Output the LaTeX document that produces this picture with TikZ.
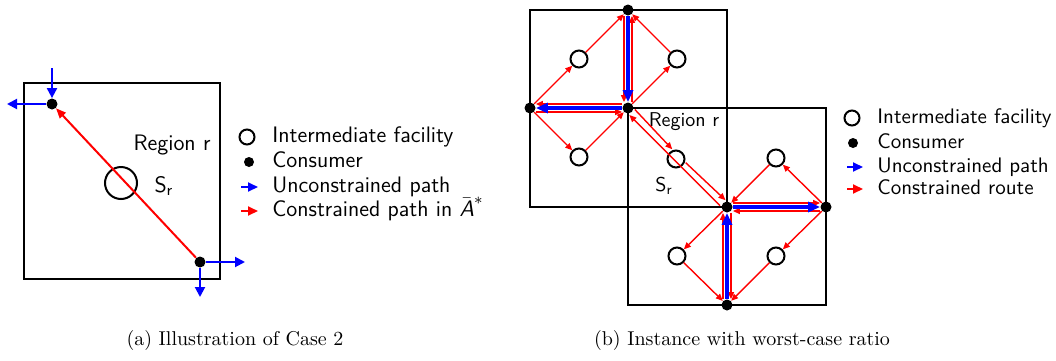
\documentclass[tikz,border=0pt]{standalone}
\usepackage{tikz}
\usetikzlibrary{arrows.meta,positioning,calc}
\definecolor{uncpath}{HTML}{0000FF}
\definecolor{conroute}{HTML}{FF0000}

\begin{document}
\begin{tikzpicture}[x=0.5pt,y=-0.5pt,
  every node/.style={font=\sffamily\fontsize{11.2}{13}\selectfont},
  facility/.style={circle,draw,line width=1pt,inner sep=0pt,minimum size=8.5pt},
  consumer/.style={circle,fill,inner sep=0pt,minimum size=5.5pt},
  region/.style={draw,line width=1pt},
  unc/.style={uncpath,line width=1pt,-{Triangle[length=5pt,width=5pt]}},
  con/.style={conroute,line width=1pt,-{Triangle[length=5pt,width=4pt]}},
  uncb/.style={uncpath,line width=1.6pt,-{Triangle[length=6pt,width=5pt]}},
  conb/.style={conroute,line width=0.7pt,-{Triangle[length=3.5pt,width=3pt]}},
  legarrow/.style={line width=1pt,-{Triangle[length=5pt,width=4.5pt]}},
  legtext/.style={anchor=west,inner sep=0pt,text height=8pt,text depth=2.5pt},
  small/.style={font=\sffamily\fontsize{10.5}{12}\selectfont},
  caption/.style={font=\rmfamily\fontsize{10}{12}\selectfont}
]
  \useasboundingbox (0,0) rectangle (1056,360);

  % (a) Case 2 in one region
  \draw[region] (24,83) rectangle (220,279);
  \node[facility,minimum size=16pt] (s) at (121,183) {};
  \node[consumer] (p) at (52,104) {};
  \node[consumer] (q) at (200,262) {};
  \node (regiona) at (172,145) {Region r};
  \node (sra) at (164,186) {S\textsubscript{r}};

  % unconstrained paths leave the region
  \coordinate (pin) at (52,68);
  \coordinate (pout) at (7,104);
  \coordinate (qout) at (245,262);
  \coordinate (qdown) at (200,297);
  \draw[unc] (pin) -- (p);
  \draw[unc] (p) -- (pout);
  \draw[unc] (q) -- (qout);
  \draw[unc] (q) -- (qdown);
  \draw[con] (q) -- (p);

  % Legend (a)
  \node[facility,minimum size=7.5pt] (lfa) at (247,137) {};
  \node[legtext] (lfta) at (272,137) {Intermediate facility};
  \node[consumer,minimum size=5pt] (lca) at (249,162) {};
  \node[legtext] (lcta) at (272,162) {Consumer};
  \coordinate (lua1) at (241,187);
  \coordinate (lua2) at (258,187);
  \draw[legarrow,uncpath] (lua1) -- (lua2);
  \node[legtext] (luta) at (272,187) {Unconstrained path};
  \coordinate (lra1) at (241,211);
  \coordinate (lra2) at (258,211);
  \draw[legarrow,conroute] (lra1) -- (lra2);
  \node[legtext] (lrta) at (272,211) {Constrained path in $\bar{\textsl{A}}^{*}$};

  % (b) worst-case instance
  \draw[region] (530,10) rectangle (727,207);
  \draw[region] (628,108) rectangle (826,305);
  \node[consumer] (t) at (628,10) {};
  \node[consumer] (l) at (530,108) {};
  \node[consumer] (c) at (628,108) {};
  \node[consumer] (d) at (727,207) {};
  \node[consumer] (e) at (826,207) {};
  \node[consumer] (b) at (727,305) {};
  \node[facility] (f1) at (579,59) {};
  \node[facility] (f2) at (677,59) {};
  \node[facility] (f3) at (579,157) {};
  \node[facility] (f4) at (676,159) {};
  \node[facility] (f5) at (776,158) {};
  \node[facility] (f6) at (677,256) {};
  \node[facility] (f7) at (776,256) {};
  \node[small,font=\sffamily\fontsize{10}{12}\selectfont] (regionb) at (684,122) {Region r};
  \node[small,font=\sffamily\fontsize{10}{12}\selectfont] (srb) at (664,186) {S\textsubscript{r}};

  % routes through the facilities
  \draw[conb] (l) -- (f1); \draw[conb] (f1) -- (t);
  \draw[conb] (c) -- (f2); \draw[conb] (f2) -- (t);
  \draw[conb] (l) -- (f3); \draw[conb] (f3) -- (c);
  \draw[conb] (e) -- (f5); \draw[conb] (f5) -- (d);
  \draw[conb] (d) -- (f6); \draw[conb] (f6) -- (b);
  \draw[conb] (e) -- (f7); \draw[conb] (f7) -- (b);
  \draw[conb,transform canvas={xshift=1.4pt,yshift=1.4pt}] (c) -- (f4);
  \draw[conb,transform canvas={xshift=1.4pt,yshift=1.4pt}] (f4) -- (d);
  \draw[conb,transform canvas={xshift=-1.4pt,yshift=-1.4pt}] (d) -- (c);

  % routes along the unconstrained paths
  \draw[conb,transform canvas={xshift=-2pt}] (t) -- (c);
  \draw[conb,transform canvas={xshift=2pt}] (c) -- (t);
  \draw[conb,transform canvas={yshift=2pt}] (c) -- (l);
  \draw[conb,transform canvas={yshift=-2pt}] (l) -- (c);
  \draw[conb,transform canvas={yshift=2pt}] (d) -- (e);
  \draw[conb,transform canvas={yshift=-2pt}] (e) -- (d);
  \draw[conb,transform canvas={xshift=-2pt}] (b) -- (d);
  \draw[conb,transform canvas={xshift=2pt}] (d) -- (b);
  \draw[uncb] (t) -- (c);
  \draw[uncb] (c) -- (l);
  \draw[uncb] (d) -- (e);
  \draw[uncb] (b) -- (d);

  % Legend (b)
  \node[facility,minimum size=7.5pt] (lfb) at (852,118) {};
  \node[legtext,small] (lftb) at (877,118) {Intermediate facility};
  \node[consumer,minimum size=5pt] (lcb) at (853,143) {};
  \node[legtext,small] (lctb) at (877,143) {Consumer};
  \coordinate (lub1) at (847,167);
  \coordinate (lub2) at (863,167);
  \draw[legarrow,uncpath] (lub1) -- (lub2);
  \node[legtext,small] (lutb) at (877,167) {Unconstrained path};
  \coordinate (lrb1) at (847,189);
  \coordinate (lrb2) at (863,189);
  \draw[legarrow,conroute] (lrb1) -- (lrb2);
  \node[legtext,small] (lrtb) at (877,189) {Constrained route};

  % Captions
  \node[caption] (capa) at (235,340) {(a) Illustration of Case 2};
  \node[caption] (capb) at (742,340) {(b) Instance with worst-case ratio};
\end{tikzpicture}
\end{document}
